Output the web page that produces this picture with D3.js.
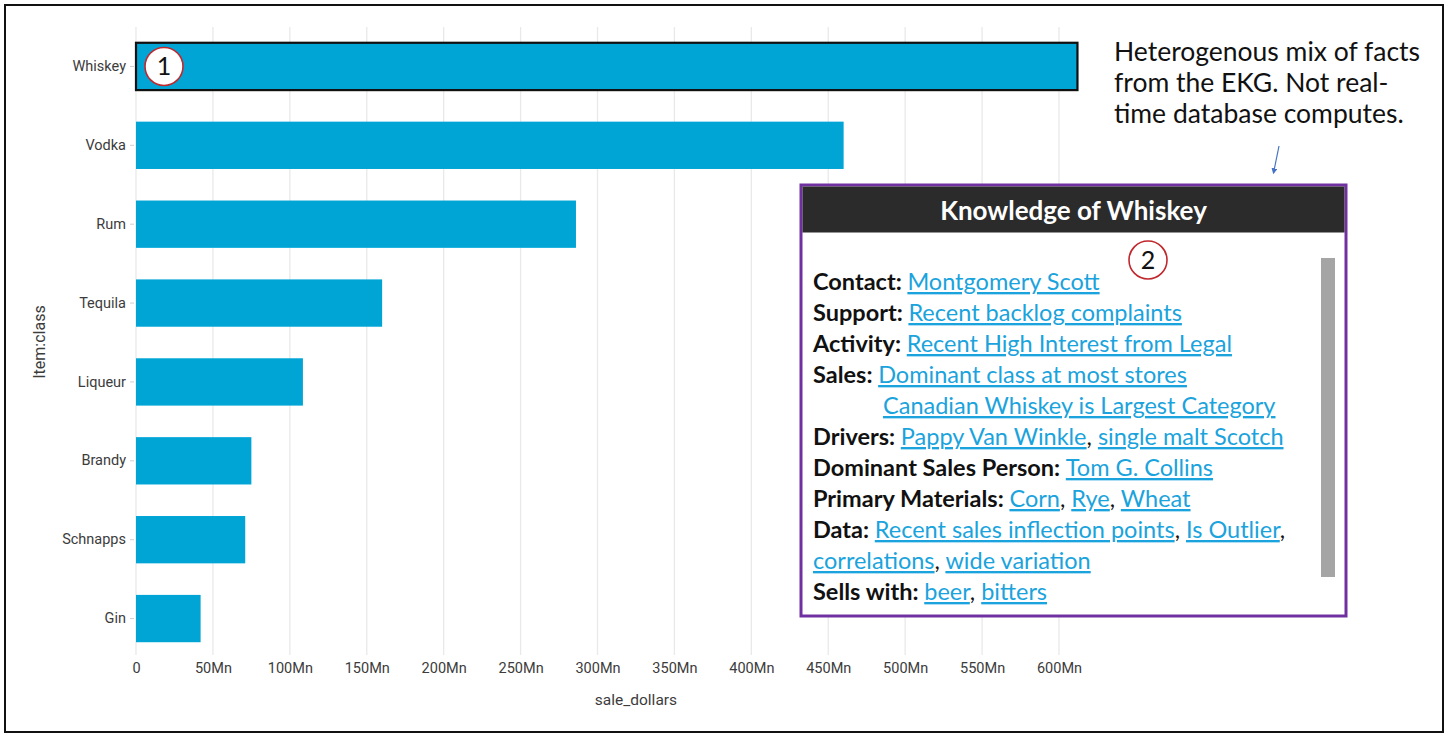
<!DOCTYPE html>
<html><head><meta charset="utf-8">
<script src="https://cdn.jsdelivr.net/npm/d3@7"></script>
<style>
html,body{margin:0;padding:0;background:#fff;}
svg text{font-kerning:normal;}
</style></head>
<body>
<svg id="c" width="1450" height="739"></svg>
<script>
const categories = ["Whiskey","Vodka","Rum","Tequila","Liqueur","Brandy","Schnapps","Gin"];
const saleDollars = [612e6, 460e6, 286e6, 160e6, 108.5e6, 75e6, 71e6, 42e6];
const xTicks = [0,50e6,100e6,150e6,200e6,250e6,300e6,350e6,400e6,450e6,500e6,550e6,600e6];
const xTitle = "sale_dollars";
const yTitle = "Item:class";
const highlighted = "Whiskey";
const noteLines = ["Heterogenous mix of facts","from the EKG. Not real-","time database computes."];
const panelTitle = "Knowledge of Whiskey";
// each line: [indent flag, segments]; segment kinds: b=bold label, l=link, p=plain
const panelLines = [
  [0,[["b","Contact: "],["l","Montgomery Scott"]]],
  [0,[["b","Support: "],["l","Recent backlog complaints"]]],
  [0,[["b","Activity: "],["l","Recent High Interest from Legal"]]],
  [0,[["b","Sales: "],["l","Dominant class at most stores"]]],
  [1,[["l","Canadian Whiskey is Largest Category"]]],
  [0,[["b","Drivers: "],["l","Pappy Van Winkle"],["p",", "],["l","single malt Scotch"]]],
  [0,[["b","Dominant Sales Person: "],["l","Tom G. Collins"]]],
  [0,[["b","Primary Materials: "],["l","Corn"],["p",", "],["l","Rye"],["p",", "],["l","Wheat"]]],
  [0,[["b","Data: "],["l","Recent sales inflection points"],["p",", "],["l","Is Outlier"],["p",","]]],
  [0,[["l","correlations"],["p",", "],["l","wide variation"]]],
  [0,[["b","Sells with: "],["l","beer"],["p",", "],["l","bitters"]]]
];

const svg = d3.select("#c");
const axisFont = "Roboto, 'Open Sans', sans-serif";
const noteFont = "Lato, 'Open Sans', sans-serif";

// outer frame
svg.append("rect").attr("x",5).attr("y",5).attr("width",1438).attr("height",727)
  .attr("fill","#fff").attr("stroke","#111").attr("stroke-width",2);

const x = d3.scaleLinear().domain([0,600e6]).range([136,1059]);
const y = d3.scaleBand().domain(categories).range([27,658]).paddingInner(0.4).paddingOuter(0.2);

// gridlines
svg.append("g").selectAll("line").data(xTicks).join("line")
  .attr("x1",d=>x(d)).attr("x2",d=>x(d)).attr("y1",27).attr("y2",655)
  .attr("stroke","#e9e9e9").attr("stroke-width",1.3);

// x axis
const xa = svg.append("g").attr("transform","translate(0,655)")
  .call(d3.axisBottom(x).tickValues(xTicks).tickSize(0).tickPadding(8)
    .tickFormat(d=> d===0 ? "0" : (d/1e6)+"Mn"));
xa.select(".domain").remove();
xa.selectAll("text").attr("font-family",axisFont).attr("font-size",14.5).attr("fill","#3c3c3c");

svg.append("text").attr("x",x(325e6)).attr("y",705).attr("text-anchor","middle")
  .attr("font-family",axisFont).attr("font-size",15.5).attr("fill","#3c3c3c").text(xTitle);

// y axis
const ya = svg.append("g").attr("transform","translate(134,0)")
  .call(d3.axisLeft(y).tickSize(4).tickPadding(4));
ya.select(".domain").remove();
ya.selectAll("line").attr("stroke","#cfcfcf");
ya.selectAll("text").attr("font-family",axisFont).attr("font-size",14.5).attr("fill","#3c3c3c");

svg.append("text").attr("transform","translate(45,342) rotate(-90)").attr("text-anchor","middle")
  .attr("font-family",axisFont).attr("font-size",16).attr("fill","#3c3c3c").text(yTitle);

// bars
svg.append("g").selectAll("rect").data(categories).join("rect")
  .attr("x",x(0)).attr("y",d=>y(d)).attr("height",y.bandwidth())
  .attr("width",(d,i)=>x(saleDollars[i])-x(0))
  .attr("fill","#00a5d6")
  .attr("stroke",d=>d===highlighted?"#111":"none")
  .attr("stroke-width",2.2);

// badge
function badge(cx,cy,r,label){
  svg.append("circle").attr("cx",cx).attr("cy",cy).attr("r",r)
    .attr("fill","#fff").attr("stroke","#c0282d").attr("stroke-width",1.6);
  svg.append("text").attr("x",cx).attr("y",cy+8.5).attr("text-anchor","middle")
    .attr("font-family",noteFont).attr("font-size",25).attr("fill","#111").text(label);
}
badge(x(0)+28, y(highlighted)+y.bandwidth()/2, 19, "1");

// note
svg.append("g").selectAll("text").data(noteLines).join("text")
  .attr("x",1114).attr("y",(d,i)=>61+i*31)
  .attr("font-family",noteFont).attr("font-size",26.5).attr("fill","#111").text(d=>d);

// arrow
svg.append("defs").append("marker").attr("id","ah").attr("viewBox","0 0 10 10")
  .attr("refX",8).attr("refY",5).attr("markerWidth",5).attr("markerHeight",5).attr("orient","auto")
  .append("path").attr("d","M0,0L10,5L0,10z").attr("fill","#4472c4");
svg.append("line").attr("x1",1279).attr("y1",146).attr("x2",1273.5).attr("y2",173)
  .attr("stroke","#4472c4").attr("stroke-width",1.2).attr("marker-end","url(#ah)");

// panel
const px=801, py=185, pw=545, ph=431;
svg.append("rect").attr("x",px).attr("y",py).attr("width",pw).attr("height",ph)
  .attr("fill","#fff").attr("stroke","#7030a0").attr("stroke-width",3);
svg.append("rect").attr("x",px+1.5).attr("y",py+1.5).attr("width",pw-3).attr("height",46)
  .attr("fill","#2b2b2b");
svg.append("text").attr("x",px+pw/2).attr("y",py+35).attr("text-anchor","middle")
  .attr("font-family",noteFont).attr("font-weight","bold").attr("font-size",26)
  .attr("fill","#fff").text(panelTitle);
// scrollbar
svg.append("rect").attr("x",1321).attr("y",258).attr("width",14).attr("height",319).attr("fill","#a5a5a5");

badge(1148, 260, 19, "2");

const lines = svg.append("g").selectAll("text").data(panelLines).join("text")
  .attr("x",d=>d[0]?883:813).attr("y",(d,i)=>290+i*31)
  .attr("font-family",noteFont).attr("font-size",23.5);
lines.each(function(d){
  const t=d3.select(this);
  d[1].forEach(s=>{
    const ts=t.append("tspan").text(s[1]);
    if(s[0]==="b") ts.attr("font-weight","bold").attr("fill","#111");
    else if(s[0]==="l") ts.attr("fill","#1aa3dc").style("text-decoration","underline");
    else ts.attr("fill","#111");
  });
});
</script>
</body></html>
